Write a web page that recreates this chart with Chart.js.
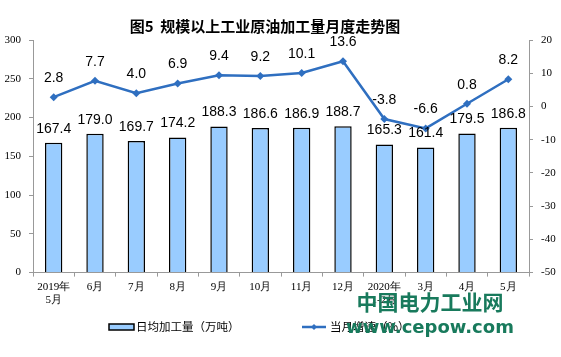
<!DOCTYPE html>
<html><head><meta charset="utf-8">
<script src="https://cdn.jsdelivr.net/npm/chart.js@4/dist/chart.umd.min.js"></script>
<style>html,body{margin:0;padding:0;background:#fff}#wrap{width:561px;height:357px;position:relative}</style>
</head><body><div id="wrap"><canvas id="c" width="561" height="357"></canvas></div>
<script>
const categories = [["2019年","5月"],"6月","7月","8月","9月","10月","11月","12月",["2020年","1-2月"],"3月","4月","5月"];
const dailyOutput = [167.4,179.0,169.7,174.2,188.3,186.6,186.9,188.7,165.3,161.4,179.5,186.8];
const growthRate = [2.8,7.7,4.0,6.9,9.4,9.2,10.1,13.6,-3.8,-6.6,0.8,8.2];
const leftTicks = [0,50,100,150,200,250,300];
const rightTicks = [-50,-40,-30,-20,-10,0,10,20];
const titleText = "图5  规模以上工业原油加工量月度走势图";
const barLegend = "日均加工量（万吨）";
const lineLegend = "当月增速（%）";

const serif = "'Liberation Serif','DejaVu Serif',serif";
const sans = "'Liberation Sans',Arial,sans-serif";
const cjk = "'Noto Sans CJK SC','Liberation Sans',sans-serif";

const labelsPlugin = {
  id:'labels',
  afterDatasetsDraw(chart){
    const ctx = chart.ctx;
    ctx.save();
    ctx.font = "14px " + sans;
    ctx.fillStyle = "#000";
    ctx.textAlign = "center";
    ctx.textBaseline = "middle";
    chart.getDatasetMeta(0).data.forEach((el,i)=>{
      ctx.fillText(dailyOutput[i].toFixed(1), el.x, el.y - 14);
    });
    chart.getDatasetMeta(1).data.forEach((el,i)=>{
      ctx.fillText(growthRate[i].toFixed(1), el.x, el.y - 19);
    });
    ctx.restore();
  },
  afterDraw(chart){
    const ctx = chart.ctx;
    ctx.save();
    // title
    ctx.font = "bold 15px " + cjk;
    ctx.fillStyle = "#000";
    ctx.textAlign = "center";
    ctx.textBaseline = "middle";
    ctx.fillText(titleText, 265, 26);
    // legend
    const ly = 327;
    ctx.fillStyle = "#99ccff";
    ctx.strokeStyle = "#000";
    ctx.lineWidth = 1.5;
    ctx.fillRect(109, ly-3, 25, 6);
    ctx.strokeRect(109, ly-3, 25, 6);
    ctx.font = "11.5px " + cjk;
    ctx.fillStyle = "#000";
    ctx.textAlign = "left";
    ctx.fillText(barLegend, 136, ly);
    ctx.strokeStyle = "#2f6fc0";
    ctx.lineWidth = 2.5;
    ctx.beginPath(); ctx.moveTo(302, ly); ctx.lineTo(326, ly); ctx.stroke();
    ctx.fillStyle = "#2f6fc0";
    ctx.beginPath(); ctx.moveTo(314, ly-3); ctx.lineTo(317, ly); ctx.lineTo(314, ly+3); ctx.lineTo(311, ly); ctx.closePath(); ctx.fill();
    ctx.fillStyle = "#000";
    ctx.fillText(lineLegend, 330, ly);
    // watermark
    ctx.fillStyle = "#187a5c";
    ctx.textAlign = "center";
    ctx.font = "bold 21px " + cjk;
    ctx.fillText("中国电力工业网", 430, 302);
    ctx.font = "bold 18px 'DejaVu Sans',sans-serif";
    ctx.fillText("www.cepow.com", 430, 328);
    ctx.restore();
  }
};

new Chart(document.getElementById('c'), {
  type:'bar',
  data:{
    labels: categories,
    datasets:[
      {type:'bar', data: dailyOutput, yAxisID:'y', backgroundColor:'#99ccff', borderColor:'#000', borderWidth:1.5, barPercentage:0.42, categoryPercentage:1, order:2},
      {type:'line', data: growthRate, yAxisID:'y1', borderColor:'#2f6fc0', backgroundColor:'#2f6fc0', borderWidth:2.5, pointStyle:'rectRot', pointRadius:4, pointBorderWidth:0, tension:0, order:1}
    ]
  },
  plugins:[labelsPlugin],
  options:{
    responsive:false, animation:false,
    layout:{padding:{top:40, bottom:46, left:0, right:0}},
    plugins:{legend:{display:false}, title:{display:false}, tooltip:{enabled:false}},
    scales:{
      x:{
        grid:{display:true, drawOnChartArea:false, drawTicks:true, tickLength:4, color:'#999', offset:true},
        border:{display:true, color:'#999'},
        ticks:{font:{family:serif, size:11}, color:'#000', maxRotation:0, autoSkip:false, padding:4}
      },
      y:{
        position:'left', min:0, max:300,
        afterBuildTicks(s){ s.ticks = leftTicks.map(v=>({value:v})); },
        afterFit(s){ s.width = 33; },
        grid:{display:true, drawOnChartArea:false, tickLength:4, color:'#999'},
        border:{display:true, color:'#999'},
        ticks:{font:{family:serif, size:11}, color:'#000', padding:8}
      },
      y1:{
        position:'right', min:-50, max:20,
        afterBuildTicks(s){ s.ticks = rightTicks.map(v=>({value:v})); },
        afterFit(s){ s.width = 32; },
        grid:{display:true, drawOnChartArea:false, tickLength:4, color:'#999'},
        border:{display:true, color:'#999'},
        ticks:{font:{family:serif, size:11}, color:'#000', padding:8}
      }
    }
  }
});
</script></body></html>
